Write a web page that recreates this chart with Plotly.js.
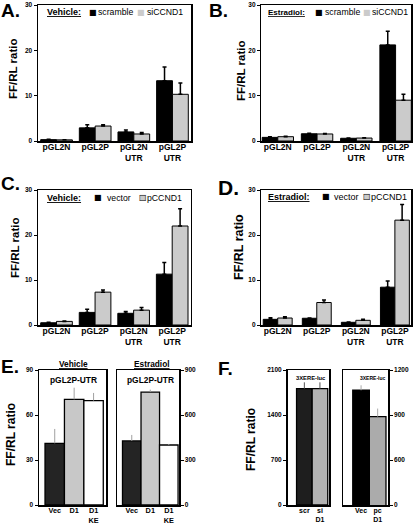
<!DOCTYPE html>
<html><head><meta charset="utf-8">
<script src="https://cdn.plot.ly/plotly-3.0.1.min.js"></script>
<style>html,body{margin:0;padding:0;background:#fff}#chart{width:416px;height:524px}</style>
</head><body><div id="chart"></div>
<script>
// ---------- data ----------
const categories = ['pGL2N', 'pGL2P', 'pGL2N<br>UTR', 'pGL2P<br>UTR'];

const A_scramble = [0.3, 2.9, 2.0, 13.3];
const A_scramble_err = [0.1, 0.7, 0.4, 3.0];
const A_siCCND1 = [0.25, 3.3, 1.55, 10.3];
const A_siCCND1_err = [0.05, 0.3, 0.3, 2.5];

const B_scramble = [0.8, 1.6, 0.6, 21.2];
const B_scramble_err = [0.15, 0.1, 0.05, 3.0];
const B_siCCND1 = [0.95, 1.55, 0.65, 9.0];
const B_siCCND1_err = [0.1, 0.1, 0.05, 1.3];

const C_vector = [0.5, 2.8, 2.6, 11.3];
const C_vector_err = [0.1, 0.7, 0.4, 2.6];
const C_pCCND1 = [0.8, 7.3, 3.3, 22.0];
const C_pCCND1_err = [0.1, 0.5, 0.6, 3.85];

const D_vector = [1.26, 1.5, 0.6, 8.4];
const D_vector_err = [0.35, 0.05, 0.07, 1.4];
const D_pCCND1 = [1.55, 5.0, 1.04, 23.3];
const D_pCCND1_err = [0.3, 0.55, 0.22, 3.5];

const E_labels = ['Vec', 'D1', 'D1<br>KE'];
const E_vehicle = [41.1, 70.4, 69.6];
const E_vehicle_err = [9.6, 7.8, 5.1];
const E_estradiol = [427, 753, 400];
const E_estradiol_err = [40, 16, 7];

const F_si_labels = ['scr', 'si<br>D1'];
const F_si_values = [1810, 1810];
const F_si_err = [98, 98];
const F_pc_labels = ['Vec', 'pc<br>D1'];
const F_pc_values = [1065, 889];
const F_pc_err = [33, 54];

const tickvals_A = [0, 10, 20, 30];
const tickvals_E1 = [0, 30, 60, 90];
const tickvals_E2 = [0, 300, 600, 900];
const tickvals_F1 = [0, 700, 1400, 2100];
const tickvals_F2 = [300, 600, 900, 1200];
const ticktext_F2 = ['0', '600', '900', '1200'];

// ---------- layout helpers ----------
const W = 416, H = 524;
const FONT = 'Liberation Sans, Arial, Helvetica, sans-serif';
const gx = p => p / W;
const gy = p => 1 - p / H;
const zeros = n => new Array(n).fill(0);

const panelDefs = [
  {k: '',  xpx: [38, 191],     ypx: [5, 141],   xr: [-0.48, 3.48], yr: [0, 30],   tv: tickvals_A,  side: 'left',  tf: 6.5, xf: 8.5, so: -3},
  {k: '2', xpx: [261.3, 411.3], ypx: [5, 141],  xr: [-0.42, 3.40], yr: [0, 30],   tv: tickvals_A,  side: 'left',  tf: 6.5, xf: 8.5, so: -3},
  {k: '3', xpx: [38, 190.7],   ypx: [190, 325], xr: [-0.48, 3.48], yr: [0, 30],   tv: tickvals_A,  side: 'left',  tf: 6.5, xf: 8.5, so: -3},
  {k: '4', xpx: [261.3, 411.3], ypx: [190, 325], xr: [-0.42, 3.42], yr: [0, 30],  tv: tickvals_A,  side: 'left',  tf: 6.5, xf: 8.5, so: -3},
  {k: '5', xpx: [39, 106],     ypx: [370, 505], xr: [-0.81, 2.64], yr: [0, 90],   tv: tickvals_E1, side: 'left',  tf: 6.5, xf: 7.3, so: -2},
  {k: '6', xpx: [117.3, 179],  ypx: [370, 505], xr: [-0.78, 2.55], yr: [0, 900],  tv: tickvals_E2, side: 'right', tf: 6.5, xf: 7.3, so: -2},
  {k: '7', xpx: [287.5, 329],  ypx: [370, 505], xr: [-1.08, 1.58], yr: [0, 2100], tv: tickvals_F1, side: 'left',  tf: 6.5, xf: 7, so: -2},
  {k: '8', xpx: [343.3, 388.3], ypx: [370, 505], xr: [-1.07, 1.64], yr: [300, 1200], tv: tickvals_F2, tt: ticktext_F2, side: 'right', tf: 6.5, xf: 7, so: -2}
];

const layout = {
  width: W, height: H,
  margin: {l: 0, r: 0, t: 0, b: 0, pad: 0},
  paper_bgcolor: '#fff', plot_bgcolor: 'rgba(0,0,0,0)',
  showlegend: false, barmode: 'overlay',
  font: {family: FONT, color: '#000'},
  annotations: []
};

panelDefs.forEach(p => {
  layout['xaxis' + p.k] = {
    domain: [gx(p.xpx[0]), gx(p.xpx[1])], range: p.xr, anchor: 'y' + p.k,
    type: 'category', showline: true, linecolor: '#000', linewidth: 1.5, mirror: true,
    ticks: '', showgrid: false, zeroline: false, fixedrange: true,
    ticklabelstandoff: p.so,
    tickfont: {family: FONT, size: p.xf, color: '#000', weight: 'bold'}
  };
  const ya = {
    domain: [gy(p.ypx[1]), gy(p.ypx[0])], range: p.yr, anchor: 'x' + p.k, side: p.side,
    showline: true, linecolor: '#000', linewidth: 1.5, mirror: true,
    ticks: 'outside', ticklen: 3, tickwidth: 1, tickcolor: '#000',
    tickmode: 'array', tickvals: p.tv,
    showgrid: false, zeroline: false, fixedrange: true,
    tickfont: {family: FONT, size: p.tf, color: '#000', weight: 'bold'}
  };
  if (p.tt) ya.ticktext = p.tt;
  layout['yaxis' + p.k] = ya;
});

// ---------- traces ----------
const traces = [];
function pair(k, s1, e1, s2, e2, c2, w) {
  const ax = {xaxis: 'x' + k, yaxis: 'y' + k};
  traces.push(Object.assign({
    type: 'bar', x: categories, y: s1, offset: -w, width: w,
    marker: {color: '#000', line: {color: '#000', width: 1}},
    error_y: {type: 'data', symmetric: false, array: e1, arrayminus: zeros(e1.length),
      color: '#000', thickness: 1.5, width: 2}
  }, ax));
  traces.push(Object.assign({
    type: 'bar', x: categories, y: s2, offset: 0, width: w,
    marker: {color: c2, line: {color: '#000', width: 1}},
    error_y: {type: 'data', symmetric: false, array: e2, arrayminus: zeros(e2.length),
      color: '#000', thickness: 1.5, width: 2}
  }, ax));
}
pair('',  A_scramble, A_scramble_err, A_siCCND1, A_siCCND1_err, '#cbcbcb', 0.41);
pair('2', B_scramble, B_scramble_err, B_siCCND1, B_siCCND1_err, '#cbcbcb', 0.40);
pair('3', C_vector, C_vector_err, C_pCCND1, C_pCCND1_err, '#cbcbcb', 0.41);
pair('4', D_vector, D_vector_err, D_pCCND1, D_pCCND1_err, '#cbcbcb', 0.37);

function single(k, labels, vals, errs, colors, errColor) {
  traces.push({
    type: 'bar', x: labels, y: vals, width: 1, xaxis: 'x' + k, yaxis: 'y' + k,
    marker: {color: colors, line: {color: '#000', width: 1.3}},
    error_y: {type: 'data', symmetric: false, array: errs, arrayminus: zeros(errs.length),
      color: errColor, thickness: 1, width: 0}
  });
}
single('5', E_labels, E_vehicle, E_vehicle_err, ['#242424', '#c8c8c8', '#ffffff'], '#a0a0a0');
single('6', E_labels, E_estradiol, E_estradiol_err, ['#242424', '#c8c8c8', '#ffffff'], '#a0a0a0');
single('7', F_si_labels, F_si_values, F_si_err, ['#1e1e1e', '#b2b2b2'], '#555');
single('8', F_pc_labels, F_pc_values, F_pc_err, ['#000000', '#ababab'], '#aaa');

// ---------- annotations (text) ----------
function ann(text, x, y, o) {
  o = o || {};
  layout.annotations.push({
    text: text, xref: 'paper', yref: 'paper', x: gx(x), y: gy(y), showarrow: false,
    xanchor: o.xa || 'left', yanchor: o.ya || 'middle', textangle: o.rot || 0,
    borderpad: 0,
    font: {family: o.fam || FONT, size: o.size || 9, color: o.color || '#000', weight: o.w || 'normal'}
  });
}
// panel letters
ann('A.', 0, 10.5, {size: 19, w: 'bold'});
ann('B.', 208, 10.5, {size: 19, w: 'bold'});
ann('C.', 0, 183.5, {size: 19, w: 'bold'});
ann('D.', 217, 187.5, {size: 21, w: 'bold'});
ann('E.', 0, 366.5, {size: 19, w: 'bold'});
ann('F.', 217, 368.5, {size: 19, w: 'bold'});

// y titles
ann('FF/RL ratio', 13, 69, {size: 11.5, w: 'bold', rot: -90, xa: 'center'});
ann('FF/RL ratio', 241, 71, {size: 11.5, w: 'bold', rot: -90, xa: 'center'});
ann('FF/RL ratio', 15, 248, {size: 11.5, w: 'bold', rot: -90, xa: 'center'});
ann('FF/RL ratio', 239, 247, {size: 12.5, w: 'bold', rot: -90, xa: 'center'});
ann('FF/RL ratio', 11, 435, {size: 12, w: 'bold', rot: -90, xa: 'center'});
ann('FF/RL ratio', 251, 440, {size: 12, w: 'bold', rot: -90, xa: 'center'});

// legends A-D
const SQ = 'DejaVu Sans';
function legend(title, tx, ty, tsize, s1, sq1x, t1x, s2, sq2x, t2x, outlined, lsize) {
  ann('<u>' + title + '</u>', tx, ty, {size: tsize, w: 'bold'});
  ann('■', sq1x, ty, {fam: SQ, size: 8, xa: 'center'});
  ann(s1, t1x, ty, {size: lsize});
  ann('■', sq2x, ty, {fam: SQ, size: 8, xa: 'center', color: '#cbcbcb'});
  if (outlined) ann('□', sq2x, ty, {fam: SQ, size: 8, xa: 'center'});
  ann(s2, t2x, ty, {size: lsize});
}
legend('Vehicle:', 46, 12, 9, 'scramble', 92.5, 96.5, 'siCCND1', 140.5, 146, false, 8.7);
legend('Estradiol:', 266.5, 12, 8, 'scramble', 318.8, 323.5, 'siCCND1', 367.2, 370.5, false, 8.7);
legend('Vehicle:', 46, 197.5, 9, 'vector', 97.5, 105.5, 'pCCND1', 142.5, 146, true, 8.7);
legend('Estradiol:', 266.5, 196.7, 9, 'vector', 325.5, 332.5, 'pCCND1', 367.2, 370, true, 9);

// E / F headers
ann('<u>Vehicle</u>', 73, 364, {size: 8.3, w: 'bold', xa: 'center'});
ann('pGL2P-UTR', 73, 380, {size: 8.4, w: 'bold', xa: 'center'});
ann('<u>Estradiol</u>', 151.7, 364, {size: 8.3, w: 'bold', xa: 'center'});
ann('pGL2P-UTR', 150.7, 380, {size: 8.4, w: 'bold', xa: 'center'});
ann('3XERE-luc', 311, 377.7, {size: 5.8, w: 'bold', xa: 'center'});
ann('3XERE-luc', 373, 377.7, {size: 5, w: 'bold', xa: 'center'});

Plotly.newPlot('chart', traces, layout, {staticPlot: true, displayModeBar: false});
</script>
</body></html>
